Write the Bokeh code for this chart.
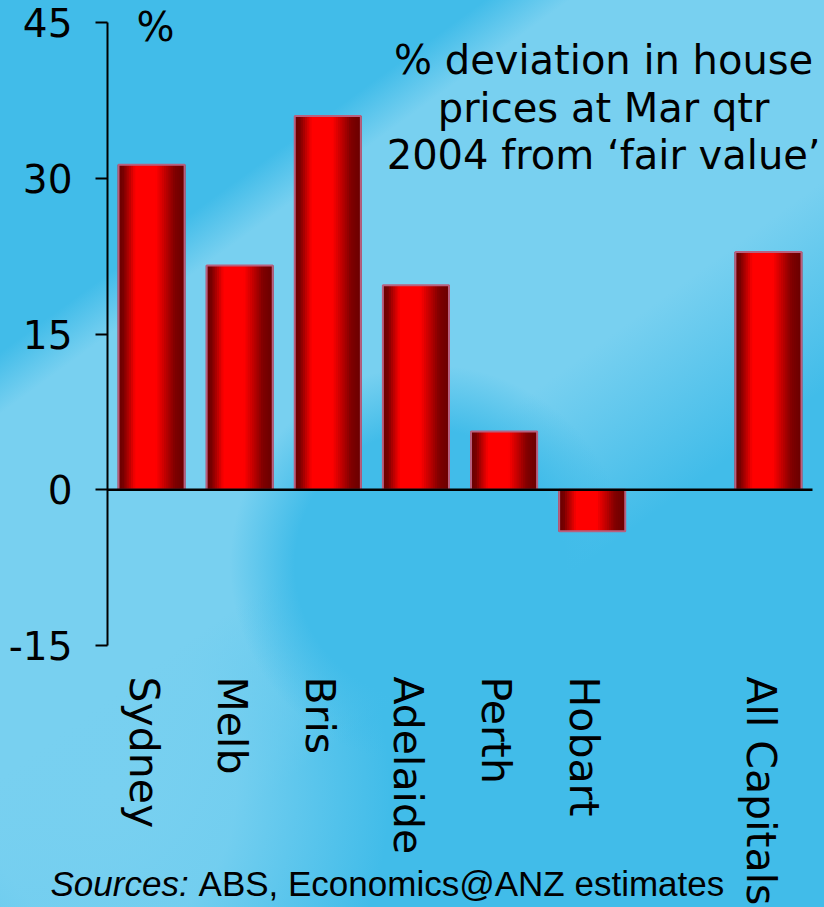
import math
from bokeh.plotting import figure
from bokeh.models import (Range1d, FixedTicker, Label, GlobalInlineStyleSheet,
                          CustomJSTickFormatter, LinearAxis)
from bokeh.embed import file_html
from bokeh.resources import INLINE

# ---------------- data ----------------
categories = ["Sydney", "Melb", "Bris", "Adelaide", "Perth", "Hobart", "All Capitals"]
slots = [0, 1, 2, 3, 4, 5, 7]          # slot 6 is left blank in the original
values = [31.3, 21.6, 36.0, 19.7, 5.6, -4.0, 22.9]
y_ticks = [-15, 0, 15, 30, 45]
title_lines = ["% deviation in house", "prices at Mar qtr", "2004 from \u2018fair value\u2019"]
source_italic = "Sources:"
source_rest = "ABS, Economics@ANZ estimates"

# ---------------- layout / styling ----------------
W, H = 824, 907
AX_LEFT_PX, AX_RIGHT_PX = 107, 812     # horizontal extent of the chart area
AX_TOP_PX, AX_BOTTOM_PX = 22, 645      # vertical extent of the value axis
BAR_W = 0.75
N_STRIPS = 30
LABEL_SHIFT = 0.09   # category labels sit slightly left of the bar centres

x_lo, x_hi = min(slots) - 0.5, max(slots) + 0.5
y_lo, y_hi = min(y_ticks), max(y_ticks)
px_x = (AX_RIGHT_PX - AX_LEFT_PX) / (x_hi - x_lo)
px_y = (AX_BOTTOM_PX - AX_TOP_PX) / (y_hi - y_lo)
x_range = Range1d(x_lo - AX_LEFT_PX / px_x, x_lo + (W - AX_LEFT_PX) / px_x)
y_range = Range1d(y_hi - (H - AX_TOP_PX) / px_y, y_hi + AX_TOP_PX / px_y)


def shade(t):
    stops = [(0.0, 0.40), (0.08, 0.46), (0.27, 1.0), (0.58, 1.0), (0.86, 0.50), (1.0, 0.42)]
    b = stops[-1][1]
    for (t0, b0), (t1, b1) in zip(stops[:-1], stops[1:]):
        if t0 <= t <= t1:
            b = b0 + (b1 - b0) * (t - t0) / (t1 - t0)
            break
    r = int(round(255 * b))
    return "#%02x0000" % r


p = figure(width=W, height=H, x_range=x_range, y_range=y_range,
           x_axis_location=None, y_axis_location=None,
           output_backend="svg", toolbar_location=None,
           min_border_left=0, min_border_right=0, min_border_top=0, min_border_bottom=0)
p.title.visible = False
p.background_fill_alpha = 0
p.border_fill_alpha = 0
p.outline_line_color = None
p.grid.visible = False

css = """
html {
  background-color: #41bce9;
  background-image:
    radial-gradient(circle at 430px 565px, rgba(65,188,233,1) 0px, rgba(65,188,233,1) 135px, rgba(65,188,233,0) 200px),
    radial-gradient(ellipse 280px 320px at 110px 790px, rgba(120,208,240,1) 0%, rgba(120,208,240,0.9) 45%, rgba(120,208,240,0) 100%),
    linear-gradient(144deg, rgba(120,208,240,0) 0px, rgba(120,208,240,0) 285px, rgba(120,208,240,1) 335px, rgba(120,208,240,1) 630px, rgba(120,208,240,0) 800px);
  background-repeat: no-repeat;
  background-size: 824px 907px;
}
"""
p.stylesheets = [GlobalInlineStyleSheet(css=css)]

# gradient bars built from narrow, slightly overlapping strips
xs, tops, cols = [], [], []
for s, v in zip(slots, values):
    for j in range(N_STRIPS):
        t = (j + 0.5) / N_STRIPS
        xs.append(s - BAR_W / 2 + t * BAR_W)
        tops.append(v)
        cols.append(shade(t))
p.vbar(x=xs, width=BAR_W / N_STRIPS * 1.7, top=tops, bottom=0,
       fill_color=cols, line_color=None)
p.vbar(x=slots, width=BAR_W, top=values, bottom=0,
       fill_color=None, line_color="#b8607f", line_width=2)

# zero line across the category area
p.segment(x0=[x_lo], x1=[x_hi], y0=[0], y1=[0], line_color="black", line_width=2.5)

# x axis (categories) drawn at the bottom of the value range
names = [""] * (max(slots) + 1)
for s, c in zip(slots, categories):
    names[s] = c
xaxis = LinearAxis(fixed_location=y_lo,
                   ticker=FixedTicker(ticks=[s - LABEL_SHIFT for s in slots]),
                   formatter=CustomJSTickFormatter(args=dict(names=names),
                                                   code="return names[Math.round(tick)] || '';"))
xaxis.major_label_orientation = -math.pi / 2
xaxis.axis_line_color = None
xaxis.major_tick_line_color = None
xaxis.major_tick_out = 0
xaxis.major_tick_in = 0
xaxis.minor_tick_line_color = None
xaxis.major_label_text_font = "DejaVu Sans"
xaxis.major_label_text_font_size = "41px"
xaxis.major_label_text_color = "black"
xaxis.major_label_standoff = 31
p.add_layout(xaxis, "below")

# y axis at the left edge of the category area
yaxis = LinearAxis(fixed_location=x_lo, bounds=(y_lo, y_hi),
                   ticker=FixedTicker(ticks=y_ticks),
                   major_label_overrides={t: str(t) for t in y_ticks})
yaxis.axis_line_width = 2
yaxis.axis_line_color = "black"
yaxis.major_tick_line_width = 2
yaxis.major_tick_line_color = "black"
yaxis.major_tick_out = 12
yaxis.major_tick_in = 0
yaxis.minor_tick_line_color = None
yaxis.major_label_text_font = "DejaVu Sans"
yaxis.major_label_text_font_size = "39px"
yaxis.major_label_text_color = "black"
yaxis.major_label_standoff = 23
p.add_layout(yaxis, "left")

# annotations
p.add_layout(Label(x=-0.17, y=44.6, text="%", text_font="DejaVu Sans",
                   text_font_size="40px", text_color="black", text_baseline="alphabetic"))
for line, yy in zip(title_lines, [41.4, 36.8, 32.25]):
    p.add_layout(Label(x=5.13, y=yy, text=line, text_font="DejaVu Sans",
                       text_font_size="40px", text_color="black",
                       text_align="center", text_baseline="alphabetic"))
p.add_layout(Label(x=-1.147, y=-37.9, text=source_italic, text_font="Liberation Sans",
                   text_font_style="italic", text_font_size="35px", text_color="black",
                   text_baseline="alphabetic"))
p.add_layout(Label(x=0.533, y=-37.9, text=source_rest, text_font="Liberation Sans",
                   text_font_size="35px", text_color="black", text_baseline="alphabetic"))

open("out.html", "w").write(file_html(p, INLINE))
